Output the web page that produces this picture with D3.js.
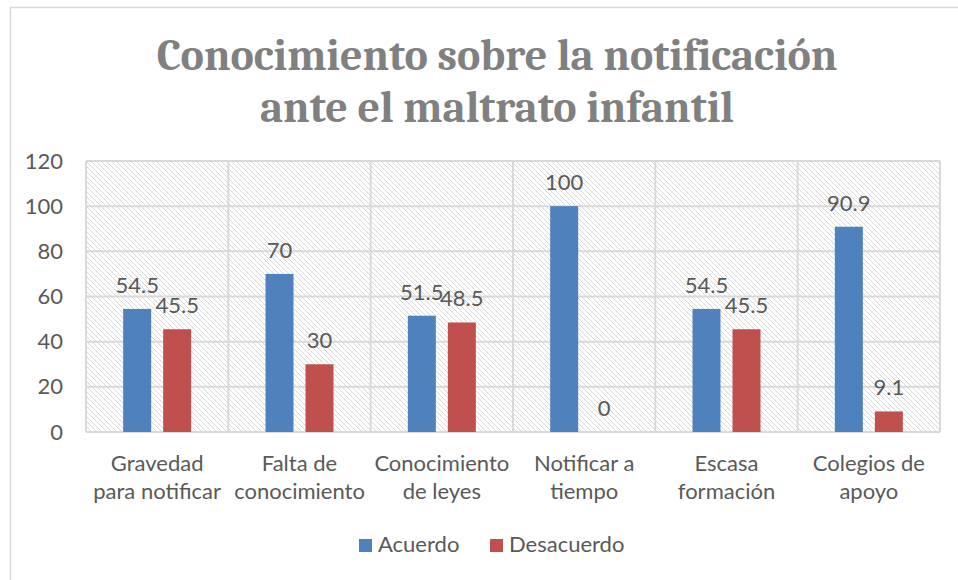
<!DOCTYPE html>
<html>
<head>
<meta charset="utf-8">
<script src="https://cdn.jsdelivr.net/npm/d3@7"></script>
<style>
  body { margin: 0; background: #fff; }
  svg { display: block; }
</style>
</head>
<body>
<div id="chart"></div>
<script>
// data
var categories = [
  ['Gravedad', 'para notificar'],
  ['Falta de', 'conocimiento'],
  ['Conocimiento', 'de leyes'],
  ['Notificar a', 'tiempo'],
  ['Escasa', 'formación'],
  ['Colegios de', 'apoyo']
];
var seriesNames = ['Acuerdo', 'Desacuerdo'];
var acuerdo = [54.5, 70, 51.5, 100, 54.5, 90.9];
var desacuerdo = [45.5, 30, 48.5, 0, 45.5, 9.1];
var yTicks = [0, 20, 40, 60, 80, 100, 120];
var titleLines = ['Conocimiento sobre la notificación', 'ante el maltrato infantil'];
var colors = ['#4f81bd', '#c0504d'];

var width = 958, height = 580;
var margin = { top: 161, right: 18, bottom: 148, left: 86 };
var textColor = '#595959';
var gridColor = '#d9d9d9';
var font = 'Lato, "Open Sans", sans-serif';
var fontSize = 22;

var svg = d3.select('#chart').append('svg')
  .attr('width', width)
  .attr('height', height);

// frame of the chart (right and bottom run off the picture)
svg.append('rect')
  .attr('x', 10.5).attr('y', 7.5)
  .attr('width', 990).attr('height', 600)
  .attr('fill', '#fff')
  .attr('stroke', gridColor)
  .attr('stroke-width', 1.5);

// hatch pattern for the plot area
var defs = svg.append('defs');
var pat = defs.append('pattern')
  .attr('id', 'hatch')
  .attr('patternUnits', 'userSpaceOnUse')
  .attr('width', 5).attr('height', 5);
pat.append('path')
  .attr('d', 'M-1,-1 L6,6 M-1,4 L1,6 M4,-1 L6,1')
  .attr('stroke', '#d4d4d4')
  .attr('stroke-width', 0.9);

// title
svg.append('g')
  .selectAll('text')
  .data(titleLines)
  .join('text')
  .attr('x', 497)
  .attr('y', function (d, i) { return 70 + i * 52; })
  .attr('text-anchor', 'middle')
  .attr('font-family', 'Cambria, "Liberation Serif", "DejaVu Serif", serif')
  .attr('font-weight', 'bold')
  .attr('font-size', 44)
  .attr('fill', '#808080')
  .text(function (d) { return d; });

var innerW = width - margin.left - margin.right;
var innerH = height - margin.top - margin.bottom;
var g = svg.append('g').attr('transform', 'translate(' + margin.left + ',' + margin.top + ')');

var x0 = d3.scaleBand()
  .domain(d3.range(categories.length))
  .range([0, innerW]);
var x1 = d3.scaleBand()
  .domain([0, 1])
  .range([x0.bandwidth() / 2 - 34, x0.bandwidth() / 2 + 34])
  .paddingInner(0.3);
var y = d3.scaleLinear().domain([0, 120]).range([innerH, 0]);

g.append('rect')
  .attr('width', innerW).attr('height', innerH)
  .attr('fill', 'url(#hatch)');

// horizontal gridlines
g.append('g')
  .selectAll('line')
  .data(yTicks)
  .join('line')
  .attr('x1', 0).attr('x2', innerW)
  .attr('y1', function (d) { return y(d); })
  .attr('y2', function (d) { return y(d); })
  .attr('stroke', gridColor)
  .attr('stroke-width', 2);

// vertical gridlines at category borders
g.append('g')
  .selectAll('line')
  .data(d3.range(categories.length + 1))
  .join('line')
  .attr('x1', function (d) { return d * x0.step(); })
  .attr('x2', function (d) { return d * x0.step(); })
  .attr('y1', 0).attr('y2', innerH)
  .attr('stroke', gridColor)
  .attr('stroke-width', 2);

// y axis labels
var yAxis = g.append('g')
  .call(d3.axisLeft(y).tickValues(yTicks).tickSize(0).tickPadding(23));
yAxis.select('.domain').remove();
yAxis.selectAll('text')
  .attr('font-family', font)
  .attr('font-size', fontSize)
  .attr('fill', textColor);

// bars
var series = [acuerdo, desacuerdo];
var groups = g.append('g')
  .selectAll('g')
  .data(series)
  .join('g')
  .attr('fill', function (d, i) { return colors[i]; });

groups.selectAll('rect')
  .data(function (d, s) { return d.map(function (v, i) { return { v: v, i: i, s: s }; }); })
  .join('rect')
  .attr('x', function (d) { return x0(d.i) + x1(d.s); })
  .attr('y', function (d) { return y(d.v); })
  .attr('width', x1.bandwidth())
  .attr('height', function (d) { return innerH - y(d.v); });

// value labels
groups.selectAll('text')
  .data(function (d, s) { return d.map(function (v, i) { return { v: v, i: i, s: s }; }); })
  .join('text')
  .attr('x', function (d) { return x0(d.i) + x1(d.s) + x1.bandwidth() / 2; })
  .attr('y', function (d) { return y(d.v) - 16; })
  .attr('text-anchor', 'middle')
  .attr('font-family', font)
  .attr('font-size', fontSize)
  .attr('fill', textColor)
  .text(function (d) { return d.v; });

// category labels
var cat = g.append('g')
  .selectAll('text')
  .data(categories)
  .join('text')
  .attr('x', function (d, i) { return x0(i) + x0.bandwidth() / 2; })
  .attr('y', innerH + 39)
  .attr('text-anchor', 'middle')
  .attr('font-family', font)
  .attr('font-size', fontSize)
  .attr('fill', textColor);
cat.selectAll('tspan')
  .data(function (d) { return d; })
  .join('tspan')
  .attr('x', function () { return d3.select(this.parentNode).attr('x'); })
  .attr('dy', function (d, i) { return i === 0 ? 0 : 28; })
  .text(function (d) { return d; });

// legend
var legendX = [359, 490];
var legend = svg.append('g')
  .selectAll('g')
  .data(seriesNames)
  .join('g')
  .attr('transform', function (d, i) { return 'translate(' + legendX[i] + ',539)'; });
legend.append('rect')
  .attr('width', 13).attr('height', 13)
  .attr('fill', function (d, i) { return colors[i]; });
legend.append('text')
  .attr('x', 19).attr('y', 13)
  .attr('font-family', font)
  .attr('font-size', fontSize)
  .attr('fill', textColor)
  .text(function (d) { return d; });
</script>
</body>
</html>
